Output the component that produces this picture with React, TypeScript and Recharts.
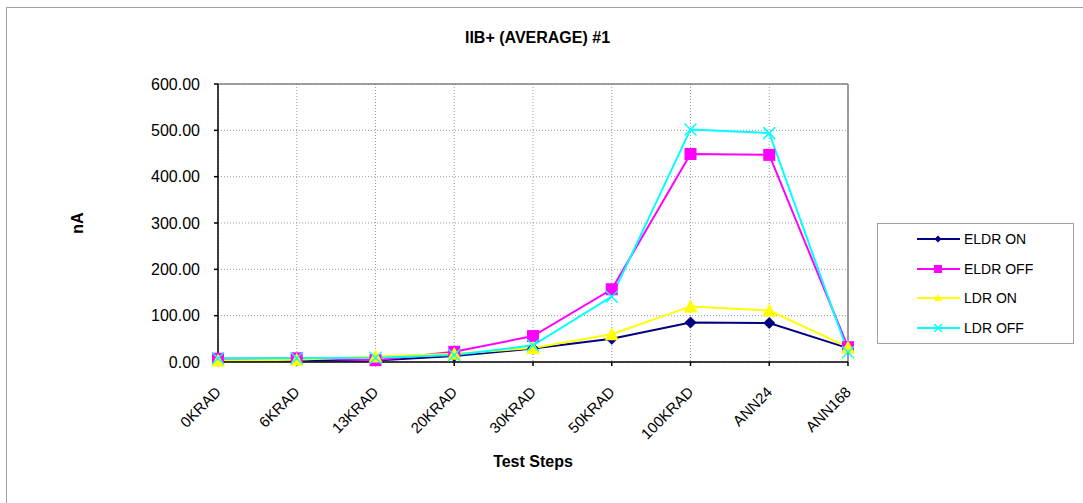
import React from 'react';
import {
  LineChart,
  Line,
  XAxis,
  YAxis,
  CartesianGrid,
  ReferenceLine,
} from 'recharts';

const categories = ['0KRAD', '6KRAD', '13KRAD', '20KRAD', '30KRAD', '50KRAD', '100KRAD', 'ANN24', 'ANN168'];
const eldrOn = [3, 3, 3, 13, 29, 50, 85, 84, 30];
const eldrOff = [7, 8, 4, 22, 56, 157, 449, 447, 32];
const ldrOn = [3, 5, 12, 18, 30, 60, 120, 111, 32];
const ldrOff = [8, 8, 9, 15, 36, 141, 502, 494, 21];
const yTicks = [0, 100, 200, 300, 400, 500, 600];

const data = categories.map((step, i) => ({
  step,
  eldrOn: eldrOn[i],
  eldrOff: eldrOff[i],
  ldrOn: ldrOn[i],
  ldrOff: ldrOff[i],
}));

const FONT = '"Liberation Sans", Arial, sans-serif';

const Diamond = ({ cx, cy, color = '#000080', r = 6 }: any) => (
  <polygon
    points={`${cx},${cy - r} ${cx + r},${cy} ${cx},${cy + r} ${cx - r},${cy}`}
    fill={color}
  />
);

const Square = ({ cx, cy, color = '#FF00FF', r = 6 }: any) => (
  <rect x={cx - r} y={cy - r} width={r * 2} height={r * 2} fill={color} />
);

const Triangle = ({ cx, cy, color = '#FFFF00', r = 7 }: any) => (
  <polygon
    points={`${cx},${cy - r} ${cx + r},${cy + r - 1} ${cx - r},${cy + r - 1}`}
    fill={color}
  />
);

const Cross = ({ cx, cy, color = '#00FFFF', r = 6 }: any) => (
  <g stroke={color} strokeWidth={1.5}>
    <line x1={cx - r} y1={cy - r} x2={cx + r} y2={cy + r} />
    <line x1={cx - r} y1={cy + r} x2={cx + r} y2={cy - r} />
  </g>
);

const dotOf = (Shape: any) => (props: any) => (
  <Shape key={props.key ?? `${props.cx}-${props.cy}`} cx={props.cx} cy={props.cy} />
);

// rotated category label, anchored at its end just below-right of the tick
const XTick = ({ x, y, payload }: any) => (
  <text
    x={x + 4}
    y={y + 25}
    transform={`rotate(-45 ${x + 4} ${y + 25})`}
    textAnchor="end"
    fontSize={15}
    fontFamily={FONT}
    fill="#000"
  >
    {payload.value}
  </text>
);

const series = [
  { key: 'eldrOn', name: 'ELDR ON', color: '#000080', shape: Diamond },
  { key: 'eldrOff', name: 'ELDR OFF', color: '#FF00FF', shape: Square },
  { key: 'ldrOn', name: 'LDR ON', color: '#FFFF00', shape: Triangle },
  { key: 'ldrOff', name: 'LDR OFF', color: '#00FFFF', shape: Cross },
];

const LegendBox = () => (
  <div
    style={{
      position: 'absolute',
      left: 877,
      top: 223,
      width: 195,
      height: 119,
      border: '1px solid #a0a0a0',
      background: '#fff',
    }}
  >
    {series.map((s, i) => {
      const Shape = s.shape;
      return (
        <div
          key={s.key}
          style={{ position: 'absolute', left: 39, top: 6 + i * 29.5, height: 18, display: 'flex', alignItems: 'center' }}
        >
          <svg width={44} height={18}>
            <line x1={0} y1={9} x2={43} y2={9} stroke={s.color} strokeWidth={2} />
            <Shape cx={21} cy={9} r={s.key === 'eldrOn' ? 3.5 : 4} />
          </svg>
          <span style={{ fontSize: 14, marginLeft: 3, fontFamily: FONT }}>{s.name}</span>
        </div>
      );
    })}
  </div>
);

export default function App() {
  return (
    <div style={{ position: 'absolute', left: 0, top: 0, width: 1083, height: 503, background: '#fff', fontFamily: FONT }}>
      <div
        style={{
          position: 'absolute',
          left: 6,
          top: 7,
          width: 1077,
          height: 496,
          borderTop: '1px solid #a0a0a0',
          borderLeft: '1px solid #a0a0a0',
        }}
      />
      <div
        style={{
          position: 'absolute',
          left: 0,
          width: 1075,
          top: 29,
          textAlign: 'center',
          fontWeight: 'bold',
          fontSize: 16,
        }}
      >
        IIB+ (AVERAGE) #1
      </div>
      <div
        style={{
          position: 'absolute',
          left: 78,
          top: 223,
          transform: 'translate(-50%, -50%) rotate(-90deg)',
          fontWeight: 'bold',
          fontSize: 16,
        }}
      >
        nA
      </div>
      <LineChart
        width={1083}
        height={503}
        data={data}
        margin={{ top: 84, right: 235, left: 148, bottom: 61 }}
      >
        <CartesianGrid stroke="#808080" strokeDasharray="1 2" strokeWidth={0.8} />
        <ReferenceLine y={600} stroke="#808080" strokeWidth={1.5} />
        <ReferenceLine x="ANN168" stroke="#808080" strokeWidth={1.5} />
        <XAxis
          dataKey="step"
          height={80}
          interval={0}
          stroke="#000"
          strokeWidth={1.5}
          tickSize={4}
          tickMargin={2}
          tick={<XTick />}
          label={{
            value: 'Test Steps',
            position: 'bottom',
            offset: 14,
            style: { fontWeight: 'bold', fontSize: 16, fill: '#000', fontFamily: FONT },
          }}
        />
        <YAxis
          width={70}
          domain={[0, 600]}
          ticks={yTicks}
          interval={0}
          stroke="#000"
          strokeWidth={1.5}
          tickSize={4}
          tickMargin={14}
          tickFormatter={(v: number) => v.toFixed(2)}
          tick={{ fontSize: 16, fill: '#000', fontFamily: FONT }}
        />
        {series.map((s) => (
          <Line
            key={s.key}
            type="linear"
            dataKey={s.key}
            name={s.name}
            stroke={s.color}
            strokeWidth={2}
            dot={dotOf(s.shape)}
            activeDot={false}
            isAnimationActive={false}
          />
        ))}
      </LineChart>
      <LegendBox />
    </div>
  );
}
